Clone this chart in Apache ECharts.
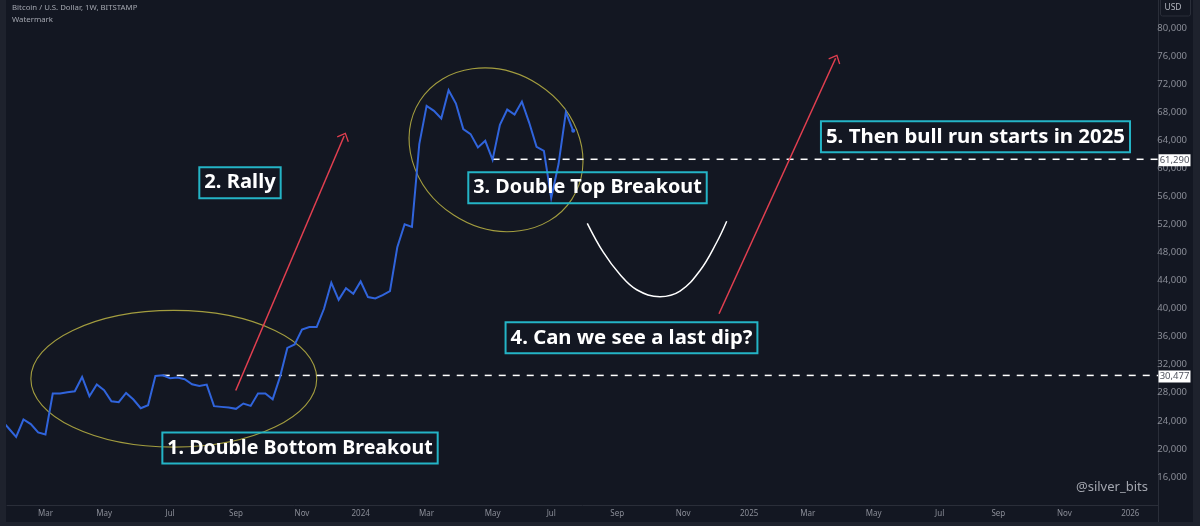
<!DOCTYPE html>
<html>
<head>
<meta charset="utf-8">
<title>Bitcoin / U.S. Dollar</title>
<style>
  html, body { margin: 0; padding: 0; background: #131722; }
  #chart { width: 1200px; height: 526px; }
</style>
<script src="https://cdn.jsdelivr.net/npm/echarts@6/dist/echarts.min.js"></script>
</head>
<body>
<div id="chart"></div>
<script>
// weekly closes, x axis counts weeks, week 0 is 2023-01-23
var prices = [
  24100, 22910, 21720, 24190, 23530, 22340, 22060, 27890, 27890, 28080,
  28220, 30260, 27510, 29170, 28360, 26800, 26660, 27980, 27040, 25800,
  26230, 30400, 30500, 30070, 30170, 29930, 29220, 28980, 29170, 26090,
  25990, 25900, 25710, 26470, 26130, 27890, 27890, 27080, 30260, 34400,
  34900, 37000, 37370, 37370, 39980, 43680, 41260, 42920, 42120, 43870,
  41640, 41450, 41920, 42490, 48750, 52020, 51650, 63450, 68900, 68190,
  67100, 71140, 69230, 65590, 64880, 62970, 63930, 61220, 66200, 68380,
  67670, 69520, 66490, 63070, 62500, 55780, 60610, 68000, 65350
];

// x axis labels, week of the first bar in the month
var tickWeeks = [6, 14, 23, 32, 41, 49, 58, 67, 75, 84, 93, 102, 110, 119, 128, 136, 145, 154];
var tickNames = ['Mar', 'May', 'Jul', 'Sep', 'Nov', '2024',
  'Mar', 'May', 'Jul', 'Sep', 'Nov', '2025',
  'Mar', 'May', 'Jul', 'Sep', 'Nov', '2026'];

// levels: [first week, price]
var levels = [[22, 30477], [67, 61290]];

// drawings, x is in weeks, y is price
var arrows = [
  [[31.96, 28320], [46.75, 64600]],
  [[97.89, 39270], [113.8, 75700]]
];
var dipWeeks = [79.92, 82.1, 84.38, 86.66, 89.84, 92.57, 95.3, 97.58, 98.94];
var dipPrices = [52160, 48040, 44860, 42690, 41690, 42490, 45430, 49460, 52450];
// [week, price, radius in weeks, radius in price, tilt in degrees]
var circles = [
  [23.51, 30000, 19.5, 9744, 0],
  [67.47, 62645, 12.35, 11100, 33]
];
var notes = [
  ['1. Double Bottom Breakout', 40.73, 20110],
  ['2. Rally', 32.54, 57950],
  ['3. Double Top Breakout', 79.95, 57240],
  ['4. Can we see a last dip?', 85.95, 35830],
  ['5. Then bull run starts in 2025', 132.88, 64500]
];

var myChart = echarts.init(document.getElementById('chart'));

var xMin = 0.754;
var xMax = 157.78;

var series = [];

// yellow ellipses
series.push({
  type: 'custom',
  silent: true,
  z: 2,
  data: circles.map(function (c) { return [c[0], c[1]]; }),
  renderItem: function (params, api) {
    var c = circles[params.dataIndex];
    var p = api.coord([c[0], c[1]]);
    var edge = api.coord([c[0] + c[2], c[1] + c[3]]);
    return {
      type: 'ellipse',
      x: p[0],
      y: p[1],
      rotation: -c[4] * Math.PI / 180,
      shape: { cx: 0, cy: 0, rx: edge[0] - p[0], ry: p[1] - edge[1] },
      style: { fill: 'none', stroke: '#a39d3f', lineWidth: 1.1 }
    };
  }
});

// dashed levels with the price tag on the axis
levels.forEach(function (l) {
  series.push({
    type: 'line',
    silent: true,
    z: 3,
    showSymbol: false,
    data: [[l[0], l[1]], [xMax, l[1]]],
    lineStyle: { color: '#ffffff', width: 1.5, type: [7, 7] },
    endLabel: {
      show: true,
      formatter: function () { return l[1].toLocaleString('en-US'); },
      color: '#50535e',
      backgroundColor: '#ffffff',
      fontFamily: 'Noto Sans',
      fontSize: 9.5,
      width: 32,
      height: 12,
      lineHeight: 12,
      align: 'center',
      distance: 0,
      offset: [16.5, 1]
    }
  });
});

// price line
series.push({
  name: 'BTCUSD',
  type: 'line',
  z: 5,
  showSymbol: false,
  data: prices.map(function (p, i) { return [i, p]; }),
  lineStyle: { color: '#3064dc', width: 2, join: 'miter' }
});
series.push({
  type: 'scatter',
  z: 5,
  silent: true,
  symbolSize: 4,
  data: [[prices.length - 1, prices[prices.length - 1]]],
  itemStyle: { color: '#3064dc', opacity: 1 }
});

// white curve
series.push({
  type: 'line',
  z: 4,
  silent: true,
  showSymbol: false,
  smooth: 0.4,
  data: dipWeeks.map(function (k, i) { return [k, dipPrices[i]]; }),
  lineStyle: { color: '#ffffff', width: 1.5 }
});

// red arrows
series.push({
  type: 'line',
  z: 4,
  silent: true,
  data: [],
  markLine: {
    silent: true,
    animation: false,
    symbol: ['none', 'path://M0,0 L10,10 L8.6,11.4 L0,2.8 L-8.6,11.4 L-10,10 Z'],
    symbolSize: [13, 8],
    label: { show: false },
    lineStyle: { color: '#e23f50', width: 1.5, type: 'solid' },
    data: arrows.map(function (a) {
      return [{ coord: a[0] }, { coord: a[1] }];
    })
  }
});

// text boxes
var noteFontSizes = [19.6, 20.2, 19.8, 20.3, 20.4];
series.push({
  type: 'scatter',
  z: 6,
  silent: true,
  symbolSize: 0,
  itemStyle: { opacity: 1 },
  data: notes.map(function (n, i) {
    return { name: n[0], value: [n[1], n[2]], label: { fontSize: noteFontSizes[i] } };
  }),
  label: {
    show: true,
    position: 'inside',
    formatter: '{b}',
    color: '#ffffff',
    opacity: 1,
    fontFamily: 'Noto Sans',
    fontWeight: 'bold',
    lineHeight: 27,
    padding: [2, 5, 2, 5],
    borderColor: '#24b4c6',
    borderWidth: 2
  }
});

var option = {
  backgroundColor: '#131722',
  animation: false,
  title: [{
    text: 'Bitcoin / U.S. Dollar, 1W, BITSTAMP\nWatermark',
    left: 12,
    top: 2,
    padding: 0,
    textStyle: { color: '#a3a6af', fontSize: 7.8, fontWeight: 'normal', fontFamily: 'Noto Sans', lineHeight: 12 }
  }, {
    text: '@silver_bits',
    left: 1076,
    top: 481,
    padding: 0,
    textStyle: { color: '#a3a6af', fontSize: 13, fontWeight: 'normal', fontFamily: 'Noto Sans' }
  }],
  grid: { left: 7, right: 42, top: -1, bottom: 21 },
  xAxis: {
    type: 'value',
    min: xMin,
    max: xMax,
    axisLine: { show: true, lineStyle: { color: '#2a2e39' } },
    axisTick: { show: false },
    splitLine: { show: false },
    axisLabel: {
      customValues: tickWeeks,
      hideOverlap: false,
      color: '#8a8d97',
      fontFamily: 'Noto Sans',
      fontSize: 8,
      margin: 5,
      formatter: function (v) { return tickNames[tickWeeks.indexOf(v)] || ''; }
    }
  },
  yAxis: {
    type: 'value',
    position: 'right',
    min: 12000,
    max: 84000,
    interval: 4000,
    axisLine: { show: true, lineStyle: { color: '#2a2e39' } },
    axisTick: { show: false },
    splitLine: { show: false },
    axisLabel: {
      showMinLabel: false,
      showMaxLabel: false,
      align: 'right',
      margin: 29,
      color: '#8a8d97',
      fontFamily: 'Noto Sans',
      fontSize: 9.5,
      formatter: function (v) { return v.toLocaleString('en-US'); }
    }
  },
  // panel edges and the currency button
  graphic: [
    { type: 'rect', silent: true, z: 100, shape: { x: 0, y: 0, width: 6, height: 526 }, style: { fill: '#1e222d' } },
    { type: 'rect', silent: true, z: 100, shape: { x: 0, y: 522, width: 1200, height: 4 }, style: { fill: '#1e222d' } },
    { type: 'rect', silent: true, z: 100, shape: { x: 1193, y: 0, width: 7, height: 526 }, style: { fill: '#1e222d' } },
    { type: 'line', silent: true, z: 100, shape: { x1: 1158.5, y1: 505, x2: 1158.5, y2: 522 }, style: { stroke: '#2a2e39' } },
    { type: 'rect', silent: true, z: 100, shape: { x: 1160.5, y: -3, width: 30, height: 19, r: 2 }, style: { fill: '#131722', stroke: '#2a2e39' } },
    { type: 'text', silent: true, z: 101, x: 1173, y: 8, style: { text: 'USD', fill: '#b2b5be', font: '8.5px "Noto Sans"', align: 'center', verticalAlign: 'middle' } }
  ],
  series: series
};

myChart.setOption(option);
</script>
</body>
</html>
